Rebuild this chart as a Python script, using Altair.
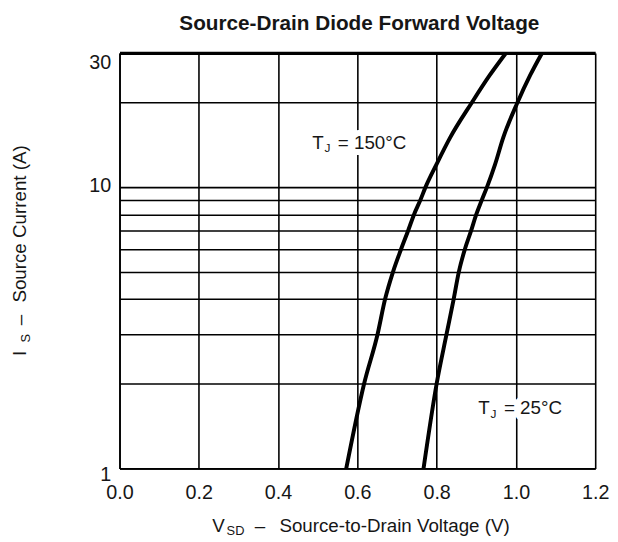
import altair as alt
import pandas as pd

# ---- data ----
vsd_150 = [0.572, 0.617, 0.651, 0.670, 0.690, 0.710, 0.728, 0.743, 0.759, 0.772, 0.799, 0.834, 0.889, 0.934, 0.975]
is_150 = [1, 2, 3, 4, 5, 6, 7, 8, 9, 10, 12, 15, 20, 25, 30]
vsd_25 = [0.767, 0.800, 0.825, 0.843, 0.856, 0.871, 0.887, 0.900, 0.914, 0.927, 0.947, 0.968, 1.004, 1.036, 1.066]
is_25 = [1, 2, 3, 4, 5, 6, 7, 8, 9, 10, 12, 15, 20, 25, 30]

x_ticks = [0.0, 0.2, 0.4, 0.6, 0.8, 1.0, 1.2]
y_grid = [1, 2, 3, 4, 5, 6, 7, 8, 9, 10, 20, 30]

label_temps = ["= 150°C", "= 25°C"]
label_x = [0.486, 0.905]
label_y = [13.7, 1.555]

FONT = "Liberation Sans"
INK = "#161616"

curves = pd.DataFrame({
    "vsd": vsd_150 + vsd_25,
    "is": is_150 + is_25,
    "series": ["150"] * len(vsd_150) + ["25"] * len(vsd_25),
})
labels = pd.DataFrame({"x": label_x, "y": label_y, "rest": label_temps, "t": ["T", "T"], "j": ["J", "J"]})

xscale = alt.Scale(domain=[0, 1.2], nice=False, zero=False)
yscale = alt.Scale(type="log", domain=[1, 30], nice=False)

xaxis = alt.Axis(values=x_ticks, format=".1f", title=None, grid=True, gridColor="black",
                 gridWidth=1.6, domainColor="black", domainWidth=1.6, ticks=False, tickSize=0,
                 labelFont=FONT, labelFontSize=20, labelColor=INK, labelPadding=30,
                 labelBaseline="alphabetic", labelFlush=False)
yaxis = alt.Axis(values=y_grid, title=None, grid=True, gridColor="black",
                 gridWidth={"condition": {"test": "datum.value == 30", "value": 3.2}, "value": 1.6},
                 domainColor="black", domainWidth=1.6, ticks=False, tickSize=0,
                 labelFont=FONT, labelFontSize=20, labelColor=INK, labelPadding=9,
                 labelFlush=False,
                 labelOffset={"condition": [{"test": "datum.value == 10", "value": -2},
                                            {"test": "datum.value == 1", "value": 6}],
                              "value": 10},
                 labelExpr="(datum.value == 1 || datum.value == 10 || datum.value == 30) ? format(datum.value, 'd') : ''")

lines = alt.Chart(curves).mark_line(color="black", strokeWidth=4, clip=True, strokeJoin="round",
                                    interpolate="monotone").encode(
    x=alt.X("vsd:Q", scale=xscale, axis=xaxis),
    y=alt.Y("is:Q", scale=yscale, axis=yaxis),
    detail="series:N",
    order=alt.Order("is:Q"),
)

base_lab = alt.Chart(labels).encode(
    x=alt.X("x:Q", scale=xscale),
    y=alt.Y("y:Q", scale=yscale),
)

def lab(field, dx, dy, size, halo):
    kw = dict(align="left", baseline="alphabetic", font=FONT, fontSize=size, dx=dx, dy=dy)
    if halo:
        kw.update(color="white", stroke="white", strokeWidth=12, strokeJoin="round")
    else:
        kw.update(color=INK)
    return base_lab.mark_text(**kw).encode(text=f"{field}:N")

annots = [lab(f, dx, dy, s, h) for h in (True, False)
          for (f, dx, dy, s) in (("t", 0, 0, 19), ("j", 12.5, 3.5, 12), ("rest", 26, 0, 19))]

def ptext(txt, x, y, size=19, weight="normal", align="left", angle=0):
    kw = dict(align=align, baseline="alphabetic", font=FONT, fontSize=size, color=INK, fontWeight=weight)
    if angle:
        kw["angle"] = angle
    return alt.Chart(pd.DataFrame({"s": [txt]})).mark_text(**kw).encode(
        x=alt.value(x), y=alt.value(y), text="s:N")

texts = [
    ptext("Source-Drain Diode Forward Voltage", 243, -23.5, size=21, weight="bold", align="center"),
    # x title with subscript
    ptext("V", 94, 485),
    ptext("SD", 108.5, 488.5, size=13),
    ptext("–", 137, 485),
    ptext("Source-to-Drain Voltage (V)", 162, 485),
    # y title (rotated) with subscript
    ptext("I", -95, 307, angle=270),
    ptext("S", -91, 293.5, size=13, angle=270),
    ptext("–", -95, 276, angle=270),
    ptext("Source Current (A)", -95, 253, angle=270),
]

chart = alt.layer(lines, *annots, *texts).properties(
    width=482, height=421,
    autosize=alt.AutoSizeParams(type="none"),
    padding={"left": 113, "top": 42, "right": 15, "bottom": 69},
).configure_view(stroke=None).configure(background="white")

chart.save("out.html", embed_options={"renderer": "svg", "actions": False})
